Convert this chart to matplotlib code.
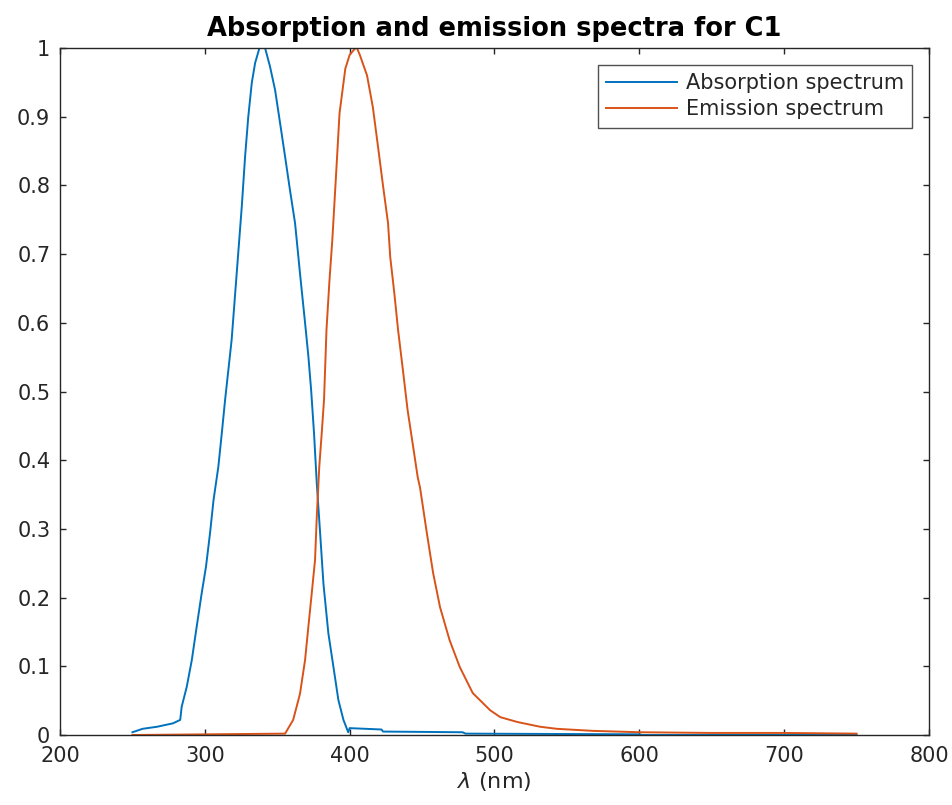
import matplotlib
matplotlib.use('Agg')
import matplotlib.pyplot as plt

# absorption spectrum
abs_wl = [250, 257, 267, 278, 283, 284, 287.5, 291, 294.4, 297.8, 300.8, 303.6,
          306, 309.3, 311.7, 314, 318.5, 322, 325.5, 327.8, 330, 332.4, 334.7,
          337.7, 340, 341.6, 345, 348.5, 352, 355.4, 358.8, 362.3, 365.7, 369.2,
          371.5, 373.4, 375.4, 377.3, 379.6, 381.9, 385.3, 388.8, 392.2, 395.7,
          399, 400, 422, 423, 478, 480, 600, 602, 750]
abs_val = [0.004, 0.009, 0.012, 0.017, 0.022, 0.041, 0.07, 0.109, 0.158, 0.206,
           0.245, 0.294, 0.342, 0.39, 0.439, 0.488, 0.575, 0.672, 0.769, 0.842,
           0.9, 0.949, 0.978, 1.0, 1.0, 1.0, 0.973, 0.939, 0.89, 0.842, 0.793,
           0.745, 0.672, 0.6, 0.551, 0.502, 0.439, 0.366, 0.294, 0.22, 0.148,
           0.099, 0.051, 0.022, 0.004, 0.01, 0.008, 0.005, 0.004, 0.002, 0.001,
           0.0, 0.0]

# emission spectrum
em_wl = [250, 355.4, 361, 365.7, 369.2, 371.5, 373.8, 376.1, 377.3, 379, 380.7,
         382.3, 384, 386, 388, 391, 393, 397, 400, 404, 405, 407, 412, 416,
         419.6, 423, 426.5, 428, 431, 433.4, 437, 440, 443.8, 447, 448.6, 453,
         457.6, 462.4, 469, 476, 485, 497, 504, 515.6, 531.5, 543, 568, 600.5,
         650, 700, 750]
em_val = [0, 0.002, 0.022, 0.06, 0.109, 0.158, 0.206, 0.255, 0.318, 0.39, 0.439,
          0.488, 0.59, 0.66, 0.72, 0.83, 0.905, 0.97, 0.99, 1.0, 1.0, 0.99, 0.96,
          0.914, 0.856, 0.8, 0.745, 0.696, 0.64, 0.59, 0.527, 0.473, 0.42, 0.375,
          0.36, 0.298, 0.236, 0.186, 0.138, 0.099, 0.061, 0.036, 0.026, 0.019,
          0.012, 0.009, 0.006, 0.004, 0.003, 0.003, 0.002]

xticks = [200, 300, 400, 500, 600, 700, 800]
yticks = [0, 0.1, 0.2, 0.3, 0.4, 0.5, 0.6, 0.7, 0.8, 0.9, 1]
ytick_labels = ['0', '0.1', '0.2', '0.3', '0.4', '0.5', '0.6', '0.7', '0.8', '0.9', '1']

dark = '#262626'
plt.rcParams['font.family'] = ['DejaVu Sans']

fig = plt.figure(figsize=(9.53, 8.05), dpi=100)
ax = fig.add_axes([60 / 953, 1 - 735 / 805, 869 / 953, 687 / 805])

ax.plot(abs_wl, abs_val, color='#0072BD', lw=1.4, label='Absorption spectrum')
ax.plot(em_wl, em_val, color='#D95319', lw=1.4, label='Emission spectrum')

ax.set_xlim(200, 800)
ax.set_ylim(0, 1)
ax.set_xticks(xticks)
ax.set_xticklabels([str(t) for t in xticks])
ax.set_yticks(yticks)
ax.set_yticklabels(ytick_labels)
ax.tick_params(direction='in', top=True, right=True, length=4, width=1,
               colors=dark, labelsize=15)
ax.tick_params(axis='x', pad=8)
ax.tick_params(axis='y', pad=7)
for s in ax.spines.values():
    s.set_color(dark)
    s.set_linewidth(1)

ax.set_title('Absorption and emission spectra for C1', fontsize=18.5,
             fontweight='bold', color='black', pad=9)
ax.set_xlabel(r'$\lambda$ (nm)', fontsize=16, color=dark, labelpad=3)

leg = ax.legend(loc='upper right', fontsize=15, frameon=True, fancybox=False,
                edgecolor=dark, handlelength=3.4, borderpad=0.4,
                labelspacing=0.3, handletextpad=0.4, borderaxespad=0,
                bbox_to_anchor=(0.9805, 0.9755))
leg.get_frame().set_linewidth(1)
for t in leg.get_texts():
    t.set_color(dark)

fig.savefig('out.png', dpi=100)
